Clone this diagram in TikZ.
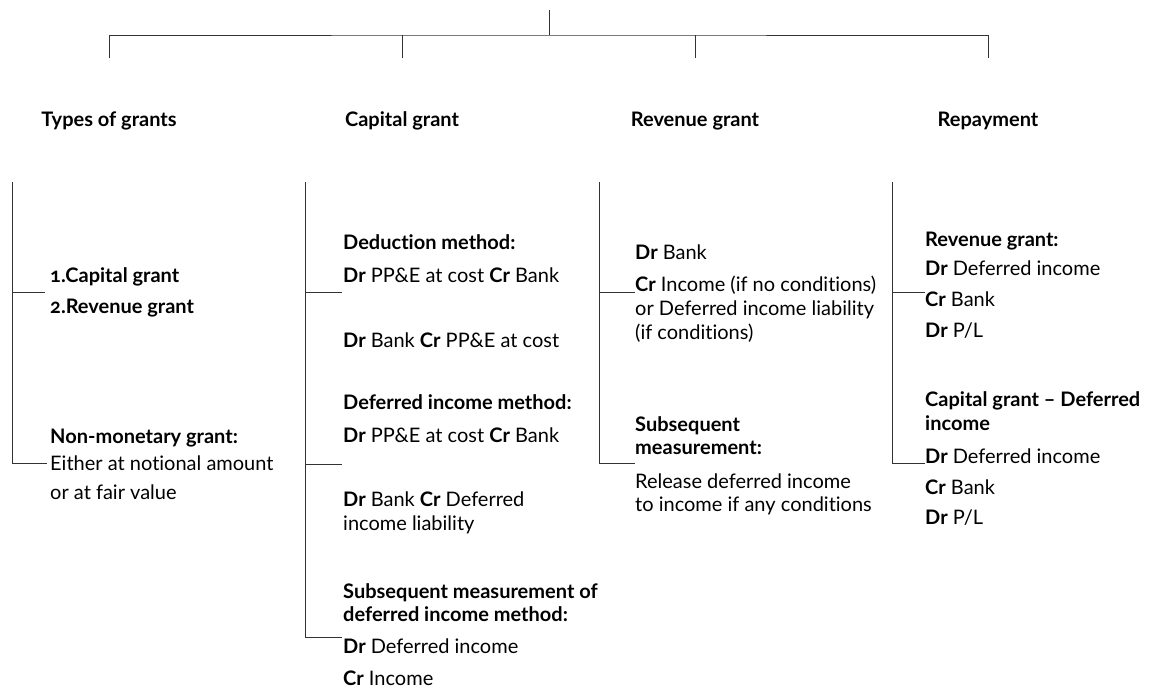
\documentclass[tikz,border=0pt]{standalone}
\usepackage{fontspec}
\setmainfont{Lato}[Numbers=OldStyle,Ligatures=NoCommon]
\newcommand{\bodysize}{\fontsize{20}{24}\selectfont}
\newcommand{\kw}[1]{\textbf{#1}}
\begin{document}
\begin{tikzpicture}[x=1pt,y=-1pt,
  line/.style={draw=black!80,line width=1pt},
  hd/.style={anchor=base,inner sep=0pt,font=\bodysize\bfseries},
  ln/.style={anchor=base west,inner sep=0pt,font=\bodysize},
  bl/.style={anchor=base west,inner sep=0pt,font=\bodysize\bfseries}]
\useasboundingbox (0,0) rectangle (1158,691);

% tree header
\coordinate (root) at (549,10);
\coordinate (bar) at (549,35);
\coordinate (d1) at (109,58);
\coordinate (d2) at (402,58);
\coordinate (d3) at (695,58);
\coordinate (d4) at (988,58);
\draw[line] (root) -- (bar);
\draw[line] (d1) |- (bar) -| (d4);
\draw[line] (d2) -- (d2 |- bar);
\draw[line] (d3) -- (d3 |- bar);

\node[hd] (h1) at (109,126) {Types of grants};
\node[hd] (h2) at (402,126) {Capital grant};
\node[hd] (h3) at (695,126) {Revenue grant};
\node[hd] (h4) at (988,126) {Repayment};

% column 1: types of grants
\node[bl] (a1) at (50,282) {1.Capital grant};
\node[bl] (a2) at (50,313) {2.Revenue grant};
\node[bl] (a3) at (50,443) {Non-monetary grant:};
\node[ln] (a4) at (50,470) {Either at notional amount};
\node[ln] (a5) at (50,499) {or at fair value};
\coordinate (s1t) at (12,182);
\coordinate (s1b) at (12,463);
\coordinate (e1a) at (45,292);
\coordinate (e1b) at (47,463);
\draw[line] (s1t) -- (s1b) -- (e1b);
\draw[line] (e1a) -- (e1a -| s1t);

% column 2: capital grant
\node[bl] (b1) at (343,249) {Deduction method:};
\node[ln] (b2) at (343,282) {\kw{Dr} PP\&E at cost \kw{Cr} Bank};
\node[ln] (b3) at (343,347) {\kw{Dr} Bank \kw{Cr} PP\&E at cost};
\node[bl] (b4) at (343,409) {Deferred income method:};
\node[ln] (b5) at (343,442) {\kw{Dr} PP\&E at cost \kw{Cr} Bank};
\node[ln] (b6) at (343,506) {\kw{Dr} Bank \kw{Cr} Deferred};
\node[ln] (b7) at (343,530) {income liability};
\node[bl] (b8) at (343,598) {Subsequent measurement of};
\node[bl] (b9) at (343,621) {deferred income method:};
\node[ln] (b10) at (343,653) {\kw{Dr} Deferred income};
\node[ln] (b11) at (343,685) {\kw{Cr} Income};
\coordinate (s2t) at (305,182);
\coordinate (s2b) at (305,637);
\coordinate (e2a) at (342,292);
\coordinate (e2b) at (342,464);
\coordinate (e2c) at (342,637);
\draw[line] (s2t) -- (s2b) -- (e2c);
\draw[line] (e2a) -- (e2a -| s2t);
\draw[line] (e2b) -- (e2b -| s2t);

% column 3: revenue grant
\node[ln] (c1) at (635,259) {\kw{Dr} Bank};
\node[ln] (c2) at (635,291) {\kw{Cr} Income (if no conditions)};
\node[ln] (c3) at (635,315) {or Deferred income liability};
\node[ln] (c4) at (635,339) {(if conditions)};
\node[bl] (c5) at (635,431) {Subsequent};
\node[bl] (c6) at (635,454) {measurement:};
\node[ln] (c7) at (635,488) {Release deferred income};
\node[ln] (c8) at (635,511) {to income if any conditions};
\coordinate (s3t) at (599,182);
\coordinate (s3b) at (599,463);
\coordinate (e3a) at (635,292);
\coordinate (e3b) at (635,463);
\draw[line] (s3t) -- (s3b) -- (e3b);
\draw[line] (e3a) -- (e3a -| s3t);

% column 4: repayment
\node[bl] (r1) at (925,246) {Revenue grant:};
\node[ln] (r2) at (925,275) {\kw{Dr} Deferred income};
\node[ln] (r3) at (925,306) {\kw{Cr} Bank};
\node[ln] (r4) at (925,337) {\kw{Dr} P/L};
\node[bl] (r5) at (925,406) {Capital grant -- Deferred};
\node[bl] (r6) at (925,430) {income};
\node[ln] (r7) at (925,463) {\kw{Dr} Deferred income};
\node[ln] (r8) at (925,494) {\kw{Cr} Bank};
\node[ln] (r9) at (925,524) {\kw{Dr} P/L};
\coordinate (s4t) at (892,182);
\coordinate (s4b) at (892,463);
\coordinate (e4a) at (925,292);
\coordinate (e4b) at (925,463);
\draw[line] (s4t) -- (s4b) -- (e4b);
\draw[line] (e4a) -- (e4a -| s4t);
\end{tikzpicture}
\end{document}
